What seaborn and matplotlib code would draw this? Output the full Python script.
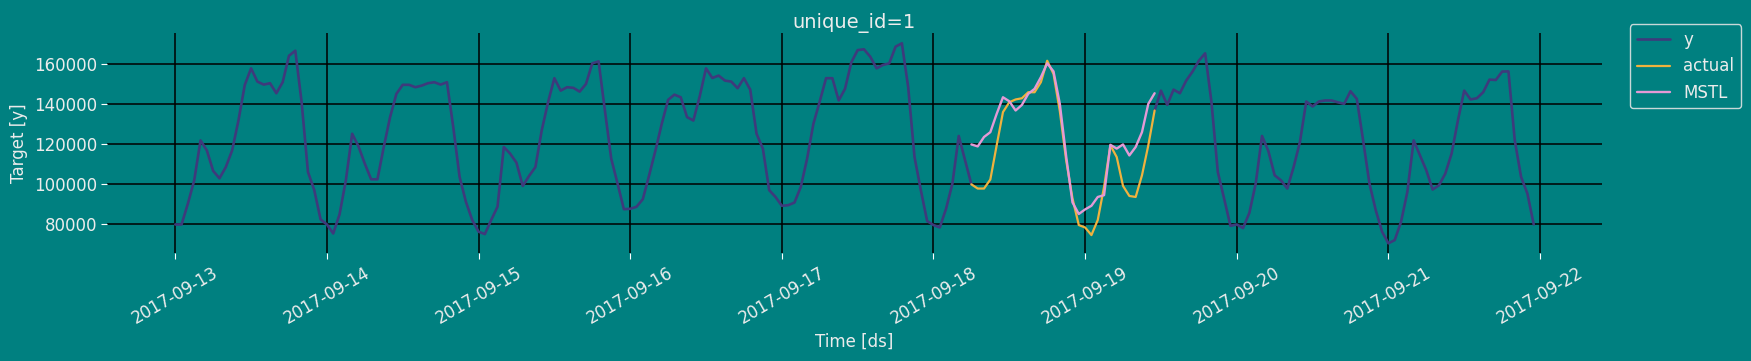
import numpy as np
import pandas as pd
import seaborn as sns
import matplotlib.pyplot as plt
import matplotlib.dates as mdates

# hourly series for unique_id=1, starting 2017-09-13 00:00
start = '2017-09-13 00:00'
y_values = [
    80000, 80000, 90400, 102000, 121900, 116900, 106700, 103000, 108600, 116900, 131800, 149500,
    157800, 151200, 149700, 150400, 145400, 150900, 164100, 166600, 140900, 106200, 97100, 82500,
    80000, 75500, 85000, 102000, 125200, 118900, 110300, 102500, 102500, 118600, 133500, 145100,
    149600, 149600, 148400, 149200, 150400, 150900, 149700, 150900, 128500, 103700, 91300, 82200,
    76400, 75200, 82200, 88800, 118600, 115300, 110800, 99200, 104200, 108600, 126900, 140900,
    152900, 146700, 148400, 148100, 146200, 150000, 160300, 161300, 136800, 112800, 100400, 87600,
    87800, 88800, 92600, 104500, 116900, 130200, 142100, 144700, 143400, 133500, 131800, 143800,
    157800, 153000, 154200, 151700, 151200, 147900, 152900, 147200, 125200, 117800, 97100, 93700,
    89300, 89600, 90900, 98700, 112800, 130200, 141300, 152900, 152900, 141800, 147600, 160800,
    166900, 167300, 163600, 157800, 159500, 160300, 168600, 170300, 148400, 113600, 97100, 81700,
    79700, 78500, 87900, 100400, 124100, 112000,
    100000, 97900, 97900, 102400, 119400, 136000, 140900, 142300, 142900, 145900, 145900, 150900,
    161600, 155000, 136400, 112000, 93000, 79700, 78500, 74700, 82200, 98700, 119400, 113600,
    99200, 94200, 93700, 104500, 119400, 136800,
    146700, 139600, 147200, 145400, 151700, 156200, 161600, 165300, 140900, 106200, 92900, 79300,
    80000, 78200, 85800, 100400, 124100, 116600, 104500, 102000, 97900, 108600, 121100, 141300,
    138800, 141300, 141800, 141800, 140900, 140100, 146400, 142600, 121900, 100400, 87100, 76400,
    70600, 72200, 81300, 96200, 121900, 114400, 107000, 97400, 99500, 105300, 115300, 131800,
    146700, 142300, 142900, 145900, 152200, 152000, 156200, 156300, 121900, 103700, 95400, 80000,
]

# test window (actual + MSTL forecast)
test_start = 126
horizon = 30
mstl_values = [
    119900, 118900, 123600, 126000, 135100, 143400, 141400, 136800, 139600, 145100, 147600, 153400,
    160300, 156300, 140100, 114000, 91000, 85200, 87500, 89300, 93700, 94600, 119700, 117800,
    119900, 114400, 118600, 126000, 140100, 145400,
]

ds = pd.date_range(start, periods=len(y_values), freq='h')
df = pd.DataFrame({'ds': ds, 'y': y_values})
test_end = test_start + horizon - 1
df['segment'] = np.where(df.index <= test_start, 0, np.where(df.index >= test_end, 1, -1))
df_y = df[df['segment'] >= 0]
df_test = df.iloc[test_start:test_start + horizon].copy()
df_test['MSTL'] = mstl_values

bg = '#008080'
txt = '#ececec'
sns.set_style('whitegrid', {
    'axes.facecolor': bg,
    'figure.facecolor': bg,
    'grid.color': 'black',
    'axes.edgecolor': bg,
    'text.color': txt,
    'axes.labelcolor': txt,
    'xtick.color': txt,
    'ytick.color': txt,
    'xtick.bottom': True,
    'ytick.left': True,
})
plt.rcParams['font.family'] = ['DejaVu Sans']

fig = plt.figure(figsize=(17.51, 3.61), dpi=100)
ax = fig.add_axes([0.0613, 0.2983, 0.8534, 0.6095])

sns.lineplot(data=df_y, x='ds', y='y', units='segment', estimator=None,
             color='#3e3a7c', lw=1.9, ax=ax)
sns.lineplot(data=df_test, x='ds', y='y', color='#f0b23e', lw=1.6, ax=ax)
sns.lineplot(data=df_test, x='ds', y='MSTL', color='#e49ad6', lw=1.7, ax=ax)

ax.grid(True, color='black', lw=1.1)
for s in ax.spines.values():
    s.set_visible(False)
ax.xaxis.set_major_locator(mdates.DayLocator())
ax.xaxis.set_major_formatter(mdates.DateFormatter('%Y-%m-%d'))
ax.tick_params(axis='both', labelsize=12, length=4, width=0.8, colors='white', labelcolor=txt)
plt.setp(ax.get_xticklabels(), rotation=30, ha='center')

ax.set_title('unique_id=1', fontsize=14, color=txt, pad=3)
ax.set_xlabel('Time [ds]', fontsize=12)
ax.set_ylabel('Target [y]', fontsize=12)

lines = ax.get_lines()
handles = [lines[0], lines[-2], lines[-1]]
leg = ax.legend(handles, ['y', 'actual', 'MSTL'], loc='upper left',
                bbox_to_anchor=(1.019, 1.04), borderaxespad=0,
                fontsize=12, frameon=True, facecolor=bg, edgecolor='#c8d8d8', framealpha=1)
for t in leg.get_texts():
    t.set_color(txt)

fig.savefig('out.png', dpi=100, facecolor=bg)
